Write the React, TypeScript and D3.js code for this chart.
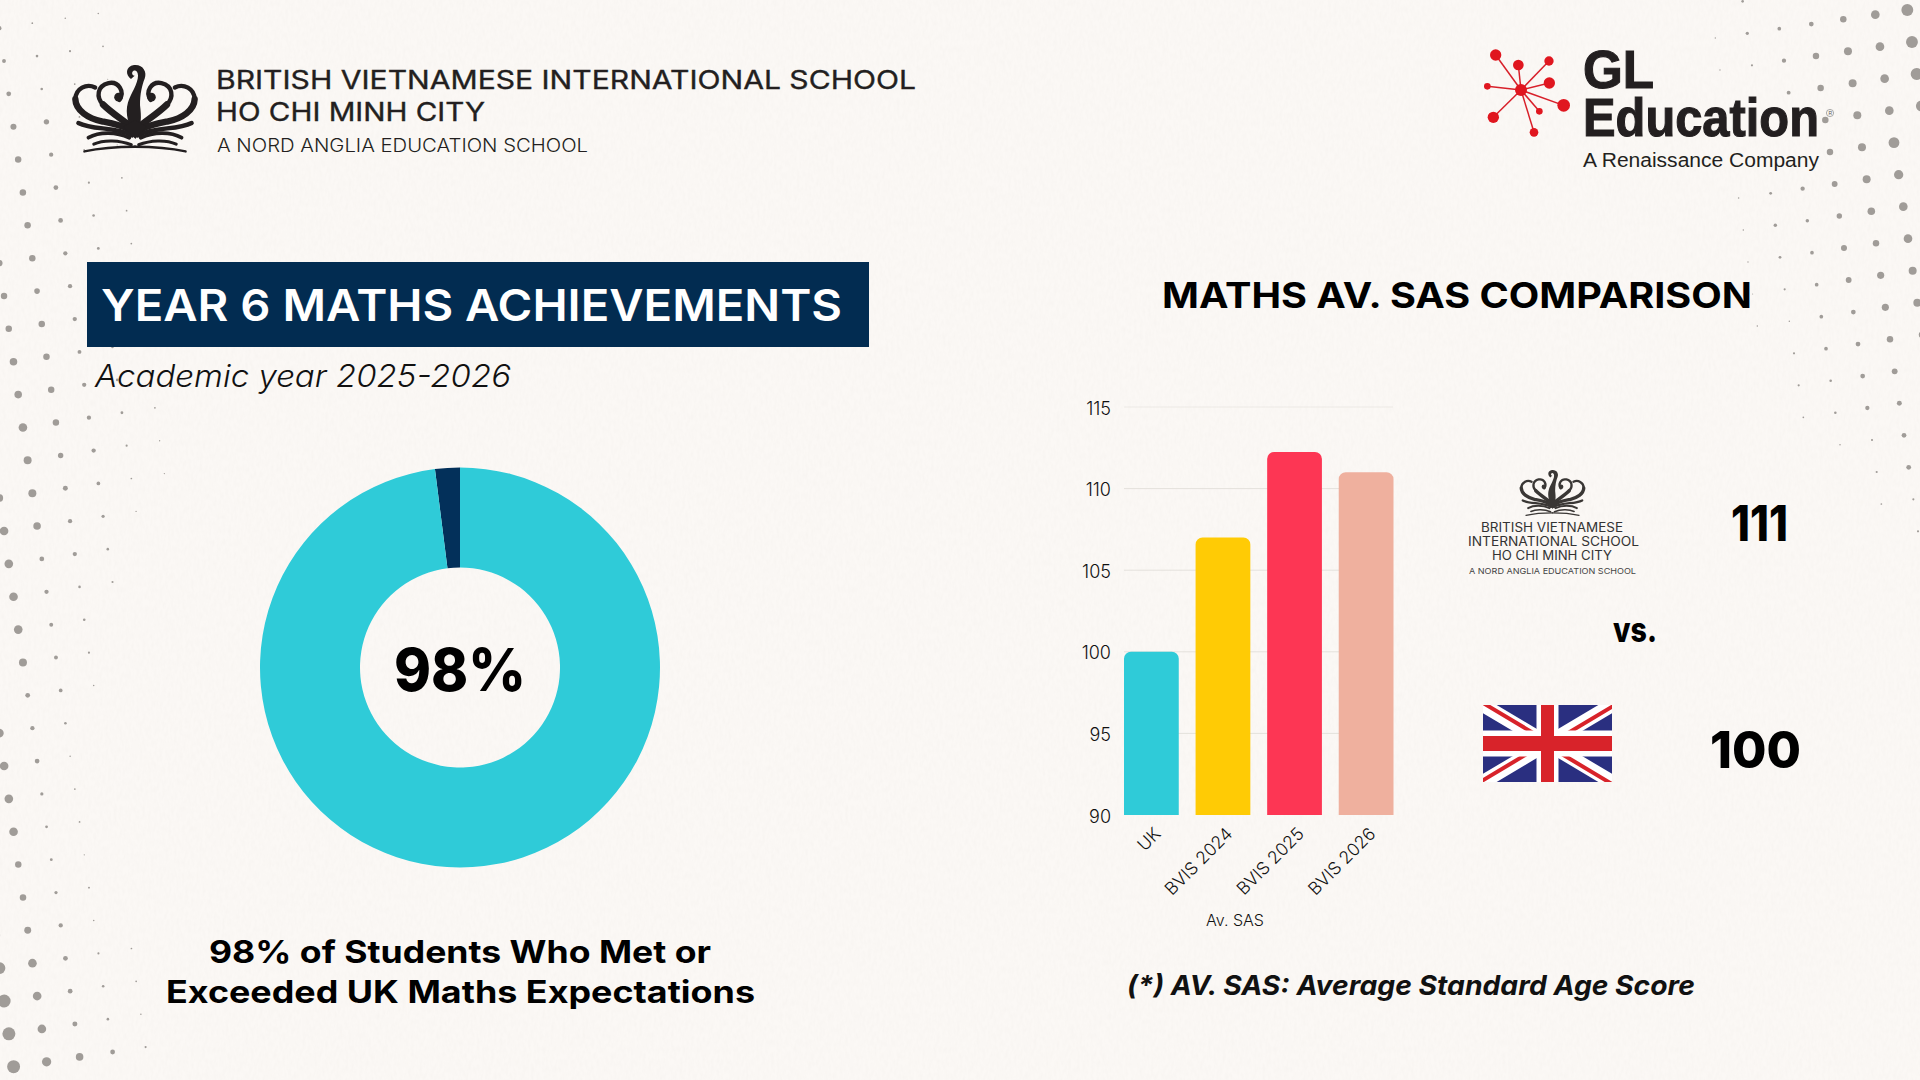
import React from "react";
import * as d3 from "d3";

// ---- chart data ----
const donutLabels = ["Met or exceeded", "Below"];
const donutValues = [98, 2];
const donutColors = ["#2fcbd8", "#03305a"];

const barCategories = ["UK", "BVIS 2024", "BVIS 2025", "BVIS 2026"];
const barValues = [100, 107, 112.25, 111];
const barColors = ["#2fcbd8", "#ffcb05", "#fd3654", "#efb09e"];
const yTicks = [90, 95, 100, 105, 110, 115];

// ---- decorative halftone dots: [column, first row, radii] ----
const leftDots: [number, number, number[]][] = [
  [-4, 26, [5, 5.5, 6, 6, 6]],
  [-3, 20, [4, 4, 4, 4, 3, 3, 3.2, 4, 4, 4, 4.3]],
  [-2, 13, [3.5, 4, 4, 4, 4, 3.7, 2.2, 2, 2.2, 1.5, 1.3, 1.3, 1.5, 2, 2.2, 2.2, 2.3, 3.5]],
  [-1, 6, [3, 3, 3, 3.5, 3.5, 4, 3.7, 3.7, 3.5, 2.2, 2, 1.8, 1.8, 1.7, 1.2, 0.7, 0.8, 0.8, 0.6, 0.9, 0.7, 1, 1.2, 1.2, 2.2]],
  [0, -1, [2, 1.8, 2.2, 2.8, 3, 3, 3, 3, 2.6, 3, 3, 3, 3, 2.5, 2.3, 2, 2, 1.2, 1.2, 1, 0.7]],
  [0, 27, [0.8, 0.8, 0.7, 1]],
  [1, -1, [0.8, 1.2, 1.2, 2.5, 2, 2.2, 2.2, 2, 2, 2, 1.8, 2, 2, 2, 1.7, 1.5, 1.2, 1]],
  [2, -1, [0.7, 1, 0.8, 0.8, 0.8, 1, 1.2, 1.3, 1, 1.1, 1.2, 1.2, 1.3, 1, 0.8, 0.6]],
  [3, -1, [0.7, 0.8, 0.5, 0.5, 0.5, 0.8, 0.8, 0.8, 0.5, 0.5, 0.5, 0.5, 0.8, 0.6, 0.6]],
];
const rightDots: [number, number, number[]][] = [
  [0, 0, [5.5, 5.5, 5.5, 5]],
  [1, 0, [4, 4, 4, 4, 5, 4.3, 4, 4, 3.7, 3.7, 3]],
  [2, 0, [3, 3.7, 3.7, 3.7, 3.7, 3.7, 3.5, 3, 3.3, 3.3, 3, 2.7, 2.3, 2.2, 2.2, 1, 1]],
  [3, 0, [2.2, 3, 3, 3, 3, 2.7, 2.5, 2.8, 2.7, 2.2, 2.2, 2.2, 2, 1, 1, 0.8]],
  [4, 0, [1.7, 2, 1.8, 0, 0, 2, 1.6, 1.7, 1.7, 1.7, 1.7, 1.2, 1.2, 0.7]],
  [5, -1, [1.2, 1.5, 1, 0, 0, 0, 1.3, 1.6, 1.3, 1, 0.7, 1, 1, 0.8]],
  [6, 0, [0.6, 0.6, 0, 0, 0, 0.7, 0.7, 0.6, 0.5, 0.7]],
];

const starNodes: [number, number, number][] = [
  [227, 165, 17], [295, 195, 16], [387, 183, 14], [388, 249, 17], [431, 316, 19],
  [358, 334, 10], [342, 397, 13], [220, 352, 17], [202, 259, 10],
];

const SANS = "Inter, 'Noto Sans', sans-serif";
const HELV = "'Liberation Sans', Arial, sans-serif";
const INK = "#231f20";

type TP = {
  x: number; y: number; x2?: number; size: number; weight?: number; fill?: string;
  italic?: boolean; family?: string; children: string; anchor?: string;
};
function T({ x, y, x2, size, weight = 400, fill = "#000", italic, family = SANS, children, anchor }: TP) {
  const extra: any = x2 !== undefined ? { textLength: x2 - x, lengthAdjust: "spacingAndGlyphs" } : {};
  return (
    <text x={x} y={y} fontSize={size} fontWeight={weight} fill={fill} fontFamily={family}
      fontStyle={italic ? "italic" : "normal"} textAnchor={anchor ?? "start"} {...extra}>
      {children}
    </text>
  );
}

function CrownHalf({ color }: { color: string }) {
  return (
    <g fill="none" stroke={color} strokeLinecap="round">
      {/* inner heart scroll */}
      <path d="M178 134 C196 110 176 78 146 84 C112 92 108 126 130 148" strokeWidth={13} />
      <path d="M130 148 C154 172 186 192 216 216" strokeWidth={20} />
      <circle cx={176} cy={126} r={13} fill={color} stroke="none" />
      {/* outer scroll */}
      <path d="M106 97 C80 84 48 100 47 132" strokeWidth={13} />
      <path d="M47 132 C48 166 86 190 126 198 C152 203 182 208 206 222" strokeWidth={19} />
      {/* book pages */}
      <path d="M56 203 C100 226 165 212 216 240" strokeWidth={13} />
      <path d="M86 247 C120 228 170 230 208 247" strokeWidth={11} />
      <path d="M102 266 C132 252 180 254 214 268" strokeWidth={9} />
      <path d="M74 288 C120 278 170 274 226 274" strokeWidth={7} />
    </g>
  );
}
function Crown({ x, y, w, color }: { x: number; y: number; w: number; color: string }) {
  const s = w / 370;
  return (
    <g transform={`translate(${x},${y}) scale(${s}) translate(-40,-30)`}>
      <CrownHalf color={color} />
      <g transform="translate(450,0) scale(-1,1)"><CrownHalf color={color} /></g>
      <path d="M213 72 C196 60 196 34 222 30 C248 27 262 50 254 70 C246 90 240 116 240 150 C244 185 246 210 226 250 C206 210 194 175 204 142 C212 116 234 86 234 62 C234 50 226 44 220 48 C214 52 216 62 224 62 Z" fill={color} />
      <path d="M190 214 L225 195 L260 214 L226 250 Z" fill={color} />
    </g>
  );
}

function Flag() {
  const x = 1483, y = 705, w = 129, h = 77;
  const cx = x + w / 2, cy = y + h / 2;
  return (
    <g>
      <clipPath id="flagClip"><rect x={x} y={y} width={w} height={h} /></clipPath>
      <g clipPath="url(#flagClip)">
        <rect x={x} y={y} width={w} height={h} fill="#2a2f80" />
        <path d={`M${x} ${y}L${x + w} ${y + h}M${x + w} ${y}L${x} ${y + h}`} stroke="#fff" strokeWidth={14} />
        <path d={`M${x} ${y - 2}L${cx} ${cy - 2}M${x + w} ${y + h + 2}L${cx} ${cy + 2}M${x + w + 3} ${y}L${cx + 3} ${cy}M${x - 3} ${y + h}L${cx - 3} ${cy}`} stroke="#d8232a" strokeWidth={4} />
        <rect x={cx - 11} y={y} width={22} height={h} fill="#fff" />
        <rect x={x} y={cy - 13} width={w} height={26} fill="#fff" />
        <rect x={cx - 6.5} y={y} width={13} height={h} fill="#d8232a" />
        <rect x={x} y={cy - 7.5} width={w} height={15} fill="#d8232a" />
      </g>
    </g>
  );
}

export default function App() {
  // donut
  const share = donutValues[1] / 100;
  const pie = d3.pie<number>().sort(null).startAngle(-share * 2 * Math.PI).endAngle(2 * Math.PI - share * 2 * Math.PI);
  const arc = d3.arc<d3.PieArcDatum<number>>().innerRadius(100).outerRadius(200);
  const slices = pie([donutValues[1], donutValues[0]]);
  const sliceColors = [donutColors[1], donutColors[0]];

  // bars
  const x = d3.scaleBand<string>().domain(barCategories).range([1124, 1393.5]).paddingInner(0.235).paddingOuter(0);
  const y = d3.scaleLinear().domain([90, 115]).range([815, 407]);
  const barPath = (cat: string, v: number) => {
    const x0 = x(cat)!, x1 = x0 + x.bandwidth(), top = y(v), base = y(90), r = 7;
    const p = d3.path();
    p.moveTo(x0, base);
    p.lineTo(x0, top + r);
    p.arcTo(x0, top, x0 + r, top, r);
    p.lineTo(x1 - r, top);
    p.arcTo(x1, top, x1, top + r, r);
    p.lineTo(x1, base);
    p.closePath();
    return p.toString();
  };

  const dots: { cx: number; cy: number; r: number }[] = [];
  leftDots.forEach(([i, j0, rs]) => rs.forEach((r, k) => {
    const j = j0 + k;
    if (r > 0) dots.push({ cx: 4 + 33 * i + 4.72 * j, cy: 61 - 4.9 * i + 32.87 * j, r: r * 1.08 });
  }));
  rightDots.forEach(([i, j0, rs]) => rs.forEach((r, k) => {
    const j = j0 + k;
    if (r > 0) dots.push({ cx: 1907.3 - 32 * i + 4.67 * j, cy: 10 + 4.67 * i + 32 * j, r: r * 1.08 });
  }));

  const cxStar = 1420 + 303 / 3, cyStar = 270 / 3;

  return (
    <svg width={1920} height={1080} viewBox="0 0 1920 1080"
      style={{ position: "fixed", left: 0, top: 0, display: "block" }}>
      <defs>
        <filter id="paper" x="0" y="0" width="100%" height="100%">
          <feTurbulence type="fractalNoise" baseFrequency="0.35 0.15" numOctaves={3} seed={4} />
          <feColorMatrix type="matrix" values="0 0 0 0 0.6  0 0 0 0 0.57  0 0 0 0 0.53  0.08 0.08 0 0 -0.06" />
        </filter>
      </defs>
      <rect width={1920} height={1080} fill="#fbf8f5" />
      <rect width={1920} height={1080} filter="url(#paper)" />

      <g fill="#a09c98">
        {dots.map((d, i) => <circle key={i} cx={d.cx} cy={d.cy} r={d.r} />)}
      </g>

      {/* BVIS header */}
      <Crown x={73} y={65} w={124} color={INK} />
      <g stroke={INK} strokeWidth={0.35}>
        <T x={216} x2={916} y={88.5} size={25.5} weight={400} fill={INK}>BRITISH VIETNAMESE INTERNATIONAL SCHOOL</T>
        <T x={216} x2={485} y={120.5} size={25.5} weight={400} fill={INK}>HO CHI MINH CITY</T>
      </g>
      <T x={217} x2={588} y={151.5} size={18} weight={300} fill={INK}>A NORD ANGLIA EDUCATION SCHOOL</T>

      {/* GL logo */}
      <g stroke="#d8202a" strokeWidth={1.5}>
        {starNodes.map(([a, b], i) => <line key={i} x1={cxStar} y1={cyStar} x2={1420 + a / 3} y2={b / 3} />)}
      </g>
      <g fill="#e0161f">
        <circle cx={cxStar} cy={cyStar} r={6} />
        {starNodes.map(([a, b, r], i) => <circle key={i} cx={1420 + a / 3} cy={b / 3} r={r / 3} />)}
      </g>
      <g stroke={INK} strokeWidth={1.1}>
        <T x={1583} x2={1654} y={88} size={53} weight={700} fill={INK} family={HELV}>GL</T>
        <T x={1583} x2={1819} y={136} size={53} weight={700} fill={INK} family={HELV}>Education</T>
      </g>
      <T x={1583} x2={1819} y={166.5} size={20} weight={400} fill={INK} family={HELV}>A Renaissance Company</T>
      <circle cx={1830} cy={113} r={3.6} fill="none" stroke="#777" strokeWidth={0.6} />
      <T x={1828.4} y={115} size={5} fill="#555" family={HELV}>R</T>

      {/* Left panel */}
      <rect x={87} y={262} width={782} height={85} fill="#022c51" />
      <T x={101} x2={842} y={321} size={44} weight={600} fill="#fff">YEAR 6 MATHS ACHIEVEMENTS</T>
      <T x={95} x2={511} y={387} size={31} weight={300} italic fill="#111">Academic year 2025-2026</T>

      <g transform="translate(460,667.5)">
        {slices.map((s, i) => <path key={donutLabels[i]} d={arc(s)!} fill={sliceColors[i]} />)}
      </g>
      <T x={394} x2={526} y={691} size={59} weight={800}>98%</T>
      <T x={209} x2={711} y={962.5} size={31} weight={700}>98% of Students Who Met or</T>
      <T x={166} x2={755} y={1002.5} size={31} weight={700}>Exceeded UK Maths Expectations</T>

      {/* Right panel */}
      <T x={1162} x2={1752} y={308} size={35} weight={700}>MATHS AV. SAS COMPARISON</T>

      <g stroke="#e4e1dc" strokeWidth={1}>
        {yTicks.slice(1).map((t) => (
          <line key={t} x1={1124} x2={1393} y1={y(t)} y2={y(t)} strokeOpacity={t === 115 ? 0.6 : 1} />
        ))}
      </g>
      {yTicks.map((t) => (
        <text key={t} x={1111} y={y(t)} dy="0.42em" textAnchor="end" fontSize={18} fontWeight={300} fontFamily={SANS} fill="#111">{t}</text>
      ))}
      {barCategories.map((c, i) => <path key={c} d={barPath(c, barValues[i])} fill={barColors[i]} />)}
      {barCategories.map((c) => {
        const bx = x(c)! + x.bandwidth() / 2 + 10.5;
        return (
          <text key={c} transform={`translate(${bx},835) rotate(-45)`} textAnchor="end" fontSize={17.5} fontWeight={300} fontFamily={SANS} fill="#111">{c}</text>
        );
      })}
      <T x={1206} x2={1264} y={926} size={15.5} weight={300} fill="#111">Av. SAS</T>

      {/* Comparison */}
      <Crown x={1520} y={470} w={65} color="#3a3735" />
      <T x={1481} x2={1623} y={532} size={12.5} fill="#333">BRITISH VIETNAMESE</T>
      <T x={1468} x2={1639} y={546} size={12.5} fill="#333">INTERNATIONAL SCHOOL</T>
      <T x={1492} x2={1612} y={559.5} size={12.5} fill="#333">HO CHI MINH CITY</T>
      <T x={1469} x2={1636} y={574} size={8} fill="#444">A NORD ANGLIA EDUCATION SCHOOL</T>
      <T x={1731} x2={1788} y={541} size={49} weight={800}>111</T>
      <T x={1613} x2={1657} y={641.5} size={34} weight={800}>vs.</T>
      <Flag />
      <T x={1710} x2={1801} y={768} size={51} weight={800}>100</T>
      <T x={1127} x2={1695} y={995} size={27} weight={700} italic fill="#111">(*) AV. SAS: Average Standard Age Score</T>
    </svg>
  );
}
